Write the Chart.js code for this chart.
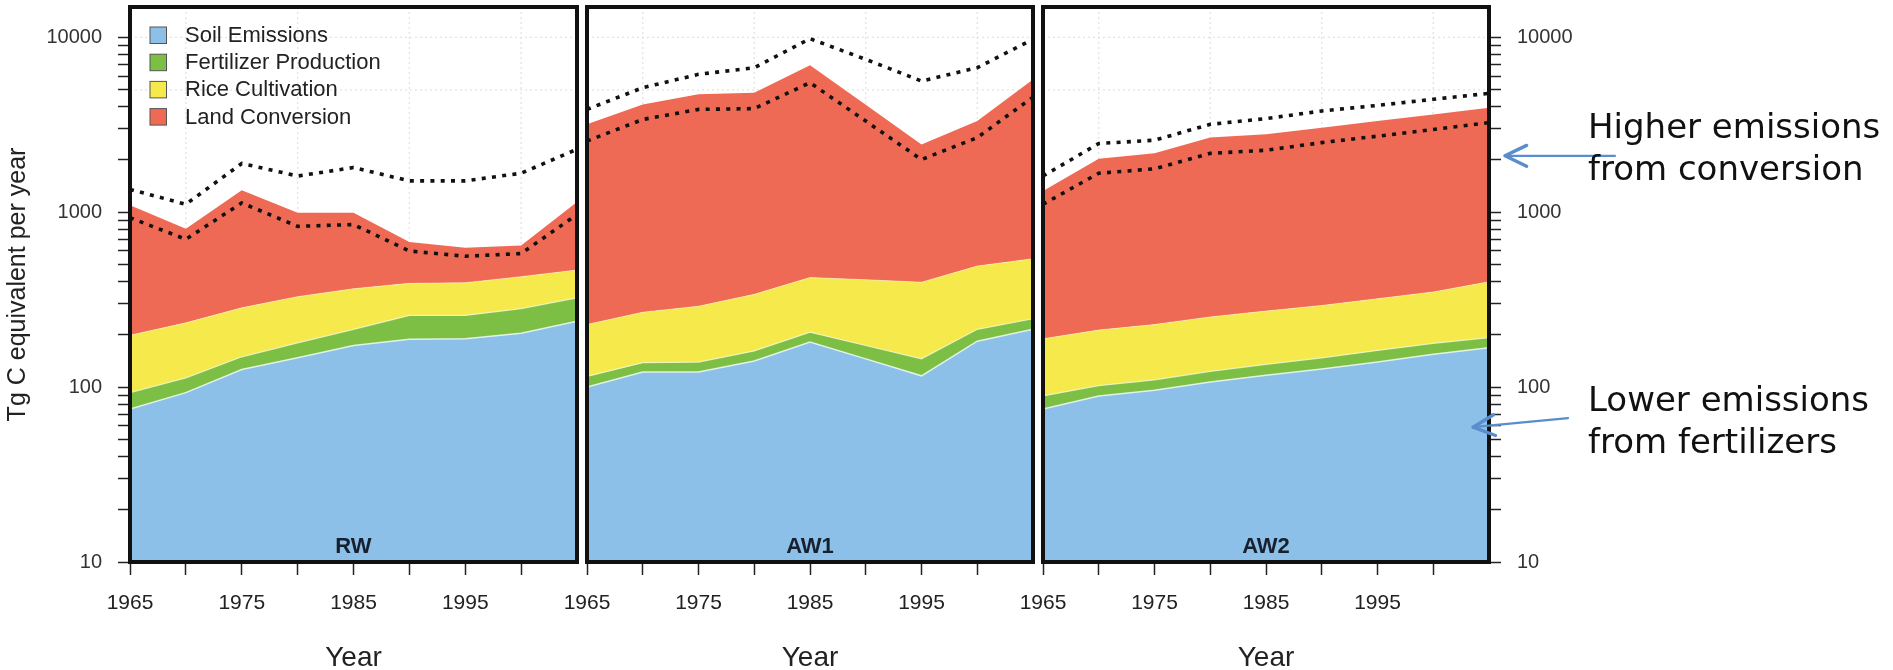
<!DOCTYPE html>
<html>
<head>
<meta charset="utf-8">
<title>Greenhouse gas emissions by source, RW / AW1 / AW2</title>
<script src="https://cdn.jsdelivr.net/npm/chart.js@4.4.1/dist/chart.umd.min.js"></script>
<style>
  html, body { margin: 0; padding: 0; background: #fff; }
  body { width: 1893px; height: 670px; position: relative; overflow: hidden; }
  canvas { position: absolute; top: 0; }
</style>
</head>
<body>
<canvas id="panelRW"  width="582" height="670" style="left:0px"></canvas>
<canvas id="panelAW1" width="498" height="670" style="left:540px"></canvas>
<canvas id="panelAW2" width="893" height="670" style="left:1000px"></canvas>

<script>
// ---- data (Tg C equivalent per year) ----
const years = [1965, 1970, 1975, 1980, 1985, 1990, 1995, 2000, 2005];
const seriesNames = ['Soil Emissions', 'Fertilizer Production', 'Rice Cultivation', 'Land Conversion'];
const panelNames = ['RW', 'AW1', 'AW2'];

// RW
const rwSoil  = [75, 93, 126, 147, 173, 188, 189, 203, 238];
const rwFert  = [18, 20, 23, 32, 41, 69, 68, 78, 86];
const rwRice  = [105, 120, 135, 150, 151, 135, 138, 147, 143];
const rwLand  = [896, 572, 1053, 664, 628, 283, 232, 218, 675];
const rwUpper = [1350, 1110, 1900, 1610, 1800, 1510, 1510, 1670, 2290];
const rwLower = [930, 700, 1130, 830, 850, 600, 560, 580, 970];

// AW1
const aw1Soil  = [100, 122, 122, 141, 181, 145, 116, 183, 214];
const aw1Fert  = [15, 16, 17, 20, 25, 28, 29, 31, 32];
const aw1Rice  = [113, 130, 151, 178, 217, 238, 253, 278, 296];
const aw1Land  = [2952, 3862, 4430, 4481, 6487, 3699, 2042, 2828, 5198];
const aw1Upper = [3870, 5150, 6140, 6700, 9820, 7480, 5620, 6700, 9750];
const aw1Lower = [2550, 3390, 3870, 3910, 5500, 3320, 2000, 2670, 4550];

// AW2
const aw2Soil  = [75, 89, 96, 107, 117, 127, 139, 154, 168];
const aw2Fert  = [14, 13, 14, 16, 18, 20, 23, 24, 24];
const aw2Rice  = [100, 110, 118, 129, 137, 146, 158, 172, 208];
const aw2Land  = [1131, 1808, 1942, 2418, 2518, 2747, 3000, 3270, 3560];
const aw2Upper = [1610, 2470, 2580, 3180, 3430, 3790, 4080, 4420, 4780];
const aw2Lower = [1110, 1670, 1770, 2170, 2260, 2500, 2720, 2970, 3250];

// axis ticks
const xTickYears  = [1965, 1970, 1975, 1980, 1985, 1990, 1995, 2000];
const xLabelYears = [1965, 1975, 1985, 1995];
const yTickValues = [10, 20, 30, 40, 50, 60, 70, 80, 90,
                     100, 200, 300, 400, 500, 600, 700, 800, 900,
                     1000, 2000, 3000, 4000, 5000, 6000, 7000, 8000, 9000, 10000];
const yLabelValues = [10, 100, 1000, 10000];
const gridYears  = [1970, 1980, 1990, 2000];
const gridValues = [5000, 10000];

// ---- styles ----
const fillColors = ['#8DC0E8', '#7CBF44', '#F6E94C', '#EE6A55'];
const edgeColors = ['rgba(240,250,235,0.85)', 'rgba(248,250,205,0.8)', 'rgba(255,245,210,0.5)', 'rgba(0,0,0,0)'];
const edgeWidths = [1.5, 1.2, 1, 0];
const INK = '#1e1e1e';

Chart.defaults.font.family = "'Liberation Sans', Arial, Helvetica, sans-serif";
Chart.defaults.color = INK;

function seriesPoints(vals) {
  return years.map((yr, i) => ({ x: yr, y: vals[i] }));
}

function buildDatasets(p) {
  const comps = [p.soil, p.fert, p.rice, p.land];
  const list = comps.map((vals, k) => ({
    label: seriesNames[k],
    data: seriesPoints(vals),
    stack: 'sources',
    order: 1,
    backgroundColor: fillColors[k],
    borderColor: edgeColors[k],
    borderWidth: edgeWidths[k],
    fill: k === 0 ? 'start' : '-1',
    pointRadius: 0,
    tension: 0
  }));
  [p.upper, p.lower].forEach((vals, k) => list.push({
    label: k ? 'lower' : 'upper',
    data: seriesPoints(vals),
    stack: 'bound' + k,
    order: 0,
    borderColor: '#111',
    borderWidth: 3.6,
    borderDash: [4, 6.3],
    borderCapStyle: 'butt',
    fill: false,
    pointRadius: 0,
    tension: 0
  }));
  return list;
}

function xScaleOptions() {
  return {
    type: 'linear', min: 1965, max: 2005, offset: false,
    afterBuildTicks(s) { s.ticks = xTickYears.map(v => ({ value: v })); },
    afterFit(s) { s.height = 108; s.paddingLeft = 0; s.paddingRight = 0; },
    grid: { drawOnChartArea: false, drawTicks: true, tickLength: 13, tickColor: '#222', tickWidth: 1.5 },
    border: { display: false },
    ticks: {
      autoSkip: false, maxRotation: 0, padding: 16, color: '#222', font: { size: 21 },
      callback: v => xLabelYears.includes(v) ? String(v) : ''
    },
    title: { display: true, text: 'Year', color: '#222', font: { size: 28, lineHeight: 0.85 }, padding: 0 }
  };
}

function yScaleOptions(position, show, axisWidth) {
  return {
    type: 'logarithmic', position: position, display: show, min: 10, max: 14900, stacked: true,
    afterBuildTicks(s) { s.ticks = yTickValues.map(v => ({ value: v })); },
    afterFit(s) { s.width = axisWidth; s.paddingTop = 0; s.paddingBottom = 0; },
    grid: { drawOnChartArea: false, drawTicks: true, tickLength: 12, tickColor: '#222', tickWidth: 1.5 },
    border: { display: false },
    ticks: {
      autoSkip: false, padding: 16, color: '#333', font: { size: 20 },
      callback: v => yLabelValues.includes(v) ? String(v) : ''
    },
    title: position === 'left'
      ? { display: true, text: 'Tg C equivalent per year', color: '#222', font: { size: 25, lineHeight: 1 }, padding: { top: 6, bottom: 0 } }
      : { display: false }
  };
}

// faint dotted grid behind the filled areas
const dottedGrid = {
  id: 'dottedGrid',
  beforeDatasetsDraw(chart) {
    const { ctx, chartArea: a, scales: { x, y } } = chart;
    ctx.save();
    ctx.strokeStyle = '#e3e3e3';
    ctx.lineWidth = 1.3;
    ctx.setLineDash([2, 3]);
    ctx.beginPath();
    gridYears.forEach(yr => { const px = x.getPixelForValue(yr); ctx.moveTo(px, a.top); ctx.lineTo(px, a.bottom); });
    gridValues.forEach(v => { const py = y.getPixelForValue(v); ctx.moveTo(a.left, py); ctx.lineTo(a.right, py); });
    ctx.stroke();
    ctx.restore();
  }
};

// heavy frame round each panel
const panelFrame = {
  id: 'panelFrame',
  afterDraw(chart) {
    const { ctx, chartArea: a } = chart;
    ctx.save();
    ctx.strokeStyle = '#111';
    ctx.lineWidth = 4;
    ctx.strokeRect(a.left, a.top, a.right - a.left, a.bottom - a.top);
    ctx.restore();
  }
};

// scenario name at the bottom of each panel
const panelTag = {
  id: 'panelTag',
  afterDatasetsDraw(chart, args, opts) {
    const { ctx, chartArea: a } = chart;
    ctx.save();
    ctx.font = "bold 22px 'Liberation Sans', Arial, sans-serif";
    ctx.fillStyle = '#17202e';
    ctx.textAlign = 'center';
    ctx.textBaseline = 'alphabetic';
    ctx.fillText(opts.text, (a.left + a.right) / 2, a.bottom - 9);
    ctx.restore();
  }
};

// legend boxes inside the first panel, taken from the filled datasets
const insetLegend = {
  id: 'insetLegend',
  afterDatasetsDraw(chart, args, opts) {
    if (!opts.show) return;
    const { ctx, chartArea: a } = chart;
    const sets = chart.data.datasets.filter(d => d.stack === 'sources');
    ctx.save();
    ctx.font = "22px 'Liberation Sans', Arial, sans-serif";
    ctx.textBaseline = 'middle';
    ctx.textAlign = 'left';
    sets.forEach((d, i) => {
      const cy = a.top + 28 + i * 27.2;
      ctx.fillStyle = d.backgroundColor;
      ctx.fillRect(a.left + 20, cy - 8, 16.5, 16.5);
      ctx.strokeStyle = '#555';
      ctx.lineWidth = 1;
      ctx.strokeRect(a.left + 20, cy - 8, 16.5, 16.5);
      ctx.fillStyle = '#222';
      ctx.fillText(d.label, a.left + 55, cy + 1);
    });
    ctx.restore();
  }
};

// side notes with arrows pointing at the last panel
const sideNotes = {
  id: 'sideNotes',
  afterDraw(chart, args, opts) {
    if (!opts.notes) return;
    const { ctx, chartArea: a, scales: { y } } = chart;
    ctx.save();
    opts.notes.forEach(n => {
      const tip = { x: a.right + n.tipDx, y: y.getPixelForValue(n.value) };
      const tail = { x: a.right + n.tailDx, y: tip.y + n.tailDy };
      const ang = Math.atan2(tail.y - tip.y, tail.x - tip.x);
      ctx.strokeStyle = '#5A8DCB';
      ctx.lineCap = 'round';
      ctx.lineWidth = 2.2;
      ctx.beginPath();
      ctx.moveTo(tail.x, tail.y);
      ctx.lineTo(tip.x, tip.y);
      ctx.stroke();
      ctx.lineWidth = 3.4;
      ctx.beginPath();
      [-0.45, 0.45].forEach(d => {
        ctx.moveTo(tip.x + 24 * Math.cos(ang + d), tip.y + 24 * Math.sin(ang + d));
        ctx.lineTo(tip.x, tip.y);
      });
      ctx.stroke();
      ctx.fillStyle = '#111';
      ctx.font = "34px 'Comic Sans MS', 'DejaVu Sans', sans-serif";
      ctx.textAlign = 'left';
      ctx.textBaseline = 'alphabetic';
      n.lines.forEach((t, i) => ctx.fillText(t, a.right + 99, tip.y + n.firstDy + i * 42));
    });
    ctx.restore();
  }
};

function makePanel(canvasId, p, cfg) {
  return new Chart(document.getElementById(canvasId), {
    type: 'line',
    data: { datasets: buildDatasets(p) },
    options: {
      responsive: false,
      maintainAspectRatio: false,
      animation: false,
      events: [],
      layout: { padding: cfg.padding },
      scales: {
        x: xScaleOptions(),
        y: yScaleOptions(cfg.yPos, cfg.yShow, cfg.yWidth)
      },
      plugins: {
        legend: { display: false },
        tooltip: { enabled: false },
        panelTag: { text: cfg.name },
        insetLegend: { show: !!cfg.legend },
        sideNotes: { notes: cfg.notes || null }
      }
    },
    plugins: [dottedGrid, insetLegend, panelTag, panelFrame, sideNotes]
  });
}

makePanel('panelRW',
  { soil: rwSoil, fert: rwFert, rice: rwRice, land: rwLand, upper: rwUpper, lower: rwLower },
  { name: panelNames[0], legend: true, yPos: 'left', yShow: true, yWidth: 130,
    padding: { top: 7, right: 5, bottom: 0, left: 0 } });

makePanel('panelAW1',
  { soil: aw1Soil, fert: aw1Fert, rice: aw1Rice, land: aw1Land, upper: aw1Upper, lower: aw1Lower },
  { name: panelNames[1], yPos: 'left', yShow: false, yWidth: 0,
    padding: { top: 7, right: 5, bottom: 0, left: 47 } });

makePanel('panelAW2',
  { soil: aw2Soil, fert: aw2Fert, rice: aw2Rice, land: aw2Land, upper: aw2Upper, lower: aw2Lower },
  { name: panelNames[2], yPos: 'right', yShow: true, yWidth: 404,
    padding: { top: 7, right: 0, bottom: 0, left: 43 },
    notes: [
      { lines: ['Higher emissions', 'from conversion'], value: 2100, tipDx: 16, tailDx: 126, tailDy: 0, firstDy: -18 },
      { lines: ['Lower emissions', 'from fertilizers'], value: 59, tipDx: -16, tailDx: 79, tailDy: -9, firstDy: -16 }
    ] });
</script>
</body>
</html>
